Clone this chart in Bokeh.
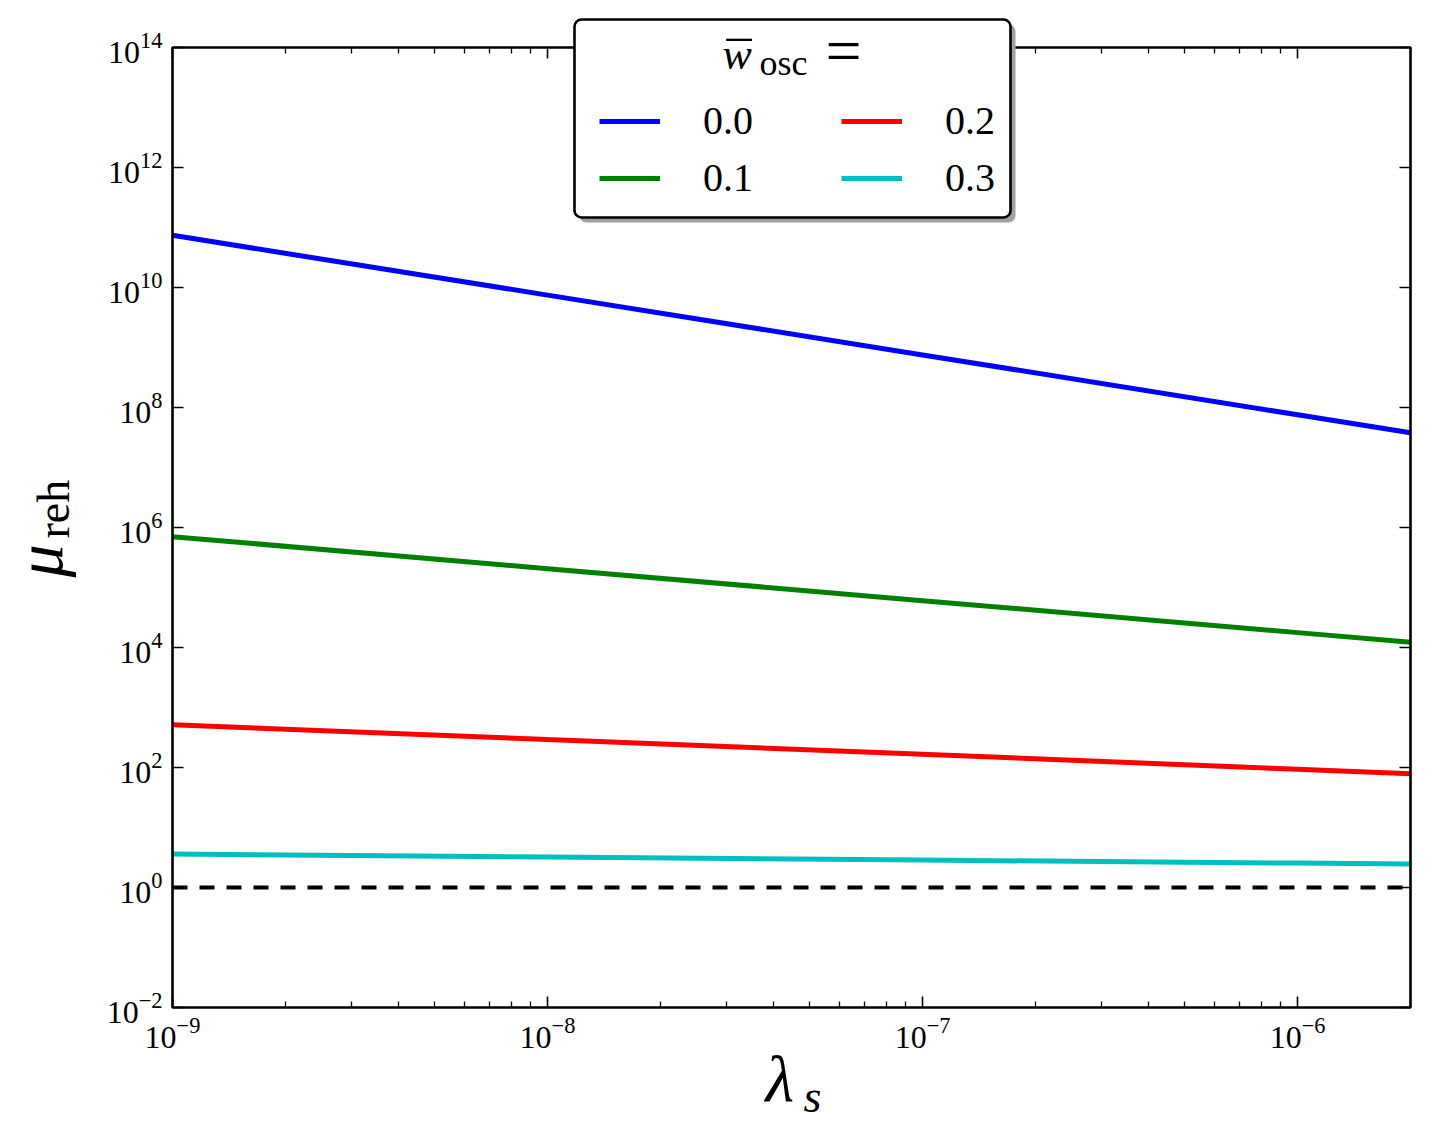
import math
import numpy as np
from bokeh.plotting import figure
from bokeh.models import (LogAxis, FixedTicker, Legend, LegendItem, Label,
                          BoxAnnotation)
from bokeh.embed import file_html
from bokeh.resources import INLINE

# ---- data ----
lam_s = [1e-9, 1e-8, 1e-7, 1e-6, 2e-6]
w_labels = ["0.0", "0.1", "0.2", "0.3"]
mu_w00 = [7.41e10, 7.46e9, 7.52e8, 7.57e7, 3.80e7]
mu_w01 = [7.03e5, 2.06e5, 6.04e4, 1.77e4, 1.22e4]
mu_w02 = [516.0, 292.0, 166.0, 93.5, 78.9]
mu_w03 = [3.61, 3.22, 2.86, 2.55, 2.47]
mu_ref = 1.0
colors = ["#0000ff", "#008000", "#ff0000", "#00bfbf"]

x_major = [1e-9, 1e-8, 1e-7, 1e-6]
x_minor = [m * d for d in [1e-9, 1e-8, 1e-7, 1e-6] for m in range(2, 10) if m * d <= 2e-6]
y_major = [1e-2, 1e0, 1e2, 1e4, 1e6, 1e8, 1e10, 1e12, 1e14]

FONT = "Liberation Serif"
XMIN, XMAX, YMIN, YMAX = 1e-9, 2e-6, 1e-2, 1e14

# ---- layout: the canvas is one big frame; the axes box sits inside it ----
W, H = 1430, 1146
PX_L, PX_R, PY_T, PY_B = 172, 1410, 47, 1007
KX = math.log10(XMAX / XMIN) / (PX_R - PX_L)
KY = math.log10(YMAX / YMIN) / (PY_B - PY_T)


def X(px):
    return 10 ** (math.log10(XMIN) + (px - PX_L) * KX)


def Y(py):
    return 10 ** (math.log10(YMIN) + (PY_B - py) * KY)


p = figure(x_axis_type="log", y_axis_type="log",
           x_range=(X(0), X(W)), y_range=(Y(H), Y(0)),
           frame_width=W, frame_height=H, min_border=0,
           output_backend="svg", toolbar_location=None)
p.title.visible = False
p.xgrid.visible = False
p.ygrid.visible = False
p.background_fill_color = "white"
p.border_fill_color = "white"
p.outline_line_color = None


def style_axis(ax, ticks, minor, show_labels, loc, bounds):
    ax.fixed_location = loc
    ax.bounds = bounds
    ax.ticker = FixedTicker(ticks=ticks, minor_ticks=minor)
    ax.axis_line_color = None
    ax.major_tick_in = 11
    ax.major_tick_out = 0
    ax.major_tick_line_color = "black"
    ax.major_tick_line_width = 1.6
    ax.minor_tick_in = 6
    ax.minor_tick_out = 0
    ax.minor_tick_line_color = "black" if minor else None
    ax.minor_tick_line_width = 1.3
    ax.axis_label = None
    if show_labels:
        ax.major_label_text_font = FONT
        ax.major_label_text_font_size = "32px"
        ax.major_label_text_color = "black"
        ax.major_label_standoff = 10
    else:
        ax.major_label_text_font_size = "0px"
        ax.major_label_text_color = None
        ax.major_label_standoff = 0


style_axis(p.xaxis[0], x_major, x_minor, True, YMIN, (XMIN, XMAX))
style_axis(p.yaxis[0], y_major, [], True, XMIN, (YMIN, YMAX))
top_ax = LogAxis()
style_axis(top_ax, x_major, x_minor, False, YMAX, (XMIN, XMAX))
p.add_layout(top_ax, "above")
right_ax = LogAxis()
style_axis(right_ax, y_major, [], False, XMAX, (YMIN, YMAX))
p.add_layout(right_ax, "right")

# ---- data lines ----
series = [mu_w00, mu_w01, mu_w02, mu_w03]
renderers = []
for vals, c in zip(series, colors):
    renderers.append(p.line(lam_s, vals, line_color=c, line_width=5))

p.line([lam_s[0], lam_s[-1]], [mu_ref, mu_ref], line_color="black",
       line_width=4, line_dash="15 12")

# axes box (spines)
p.add_layout(BoxAnnotation(left=XMIN, right=XMAX, bottom=YMIN, top=YMAX,
                           fill_color=None, fill_alpha=0.0,
                           line_color="black", line_alpha=1.0, line_width=2.6))


# ---- legend frame (shadow + rounded box) ----
def pbox(l, r, t, b, **kw):
    bx = BoxAnnotation(left=X(l), right=X(r), top=Y(t), bottom=Y(b), **kw)
    if "border_radius" in BoxAnnotation.properties():
        bx.border_radius = 7
    p.add_layout(bx)


pbox(579, 1015, 24, 222, fill_color="#a0a0a0", fill_alpha=1.0, line_color=None)
pbox(574, 1010, 19, 217, fill_color="white", fill_alpha=1.0,
     line_color="black", line_alpha=1.0, line_width=2.6)


def make_legend(items, px_left, py_bottom):
    return Legend(items=items, location=(px_left, H - py_bottom),
                  label_text_font=FONT, label_text_font_size="40px",
                  label_text_color="black",
                  glyph_width=61, glyph_height=36, label_height=36,
                  label_standoff=43, label_width=48,
                  spacing=10, padding=0, margin=0,
                  border_line_color=None, background_fill_alpha=0.0)


p.add_layout(make_legend([LegendItem(label=w_labels[0], renderers=[renderers[0]]),
                          LegendItem(label=w_labels[1], renderers=[renderers[1]])],
                         599, 201))
p.add_layout(make_legend([LegendItem(label=w_labels[2], renderers=[renderers[2]]),
                          LegendItem(label=w_labels[3], renderers=[renderers[3]])],
                         841, 201))


def lab(text, px, py, size, style="normal", angle=0.0):
    p.add_layout(Label(x=X(px), y=Y(py), text=text,
                       text_font=FONT, text_font_size=f"{size}px",
                       text_font_style=style, text_color="black",
                       text_align="left", text_baseline="alphabetic",
                       angle=angle))


# legend title  \bar{w}_{osc} =
lab("w", 722, 54, 44, "italic")
lab("\u00af", 726, 59, 50)
lab("osc", 759, 62, 36)
lab("=", 825, 50, 64)

# axis labels
lab("\u03bb", 765, 1078, 66, "italic")
lab("s", 803, 1096, 46, "italic")
lab("\u03bc", 39, 577, 66, "italic", np.pi / 2)
lab("reh", 53, 538, 46, "normal", np.pi / 2)

open("out.html", "w").write(file_html(p, INLINE))
